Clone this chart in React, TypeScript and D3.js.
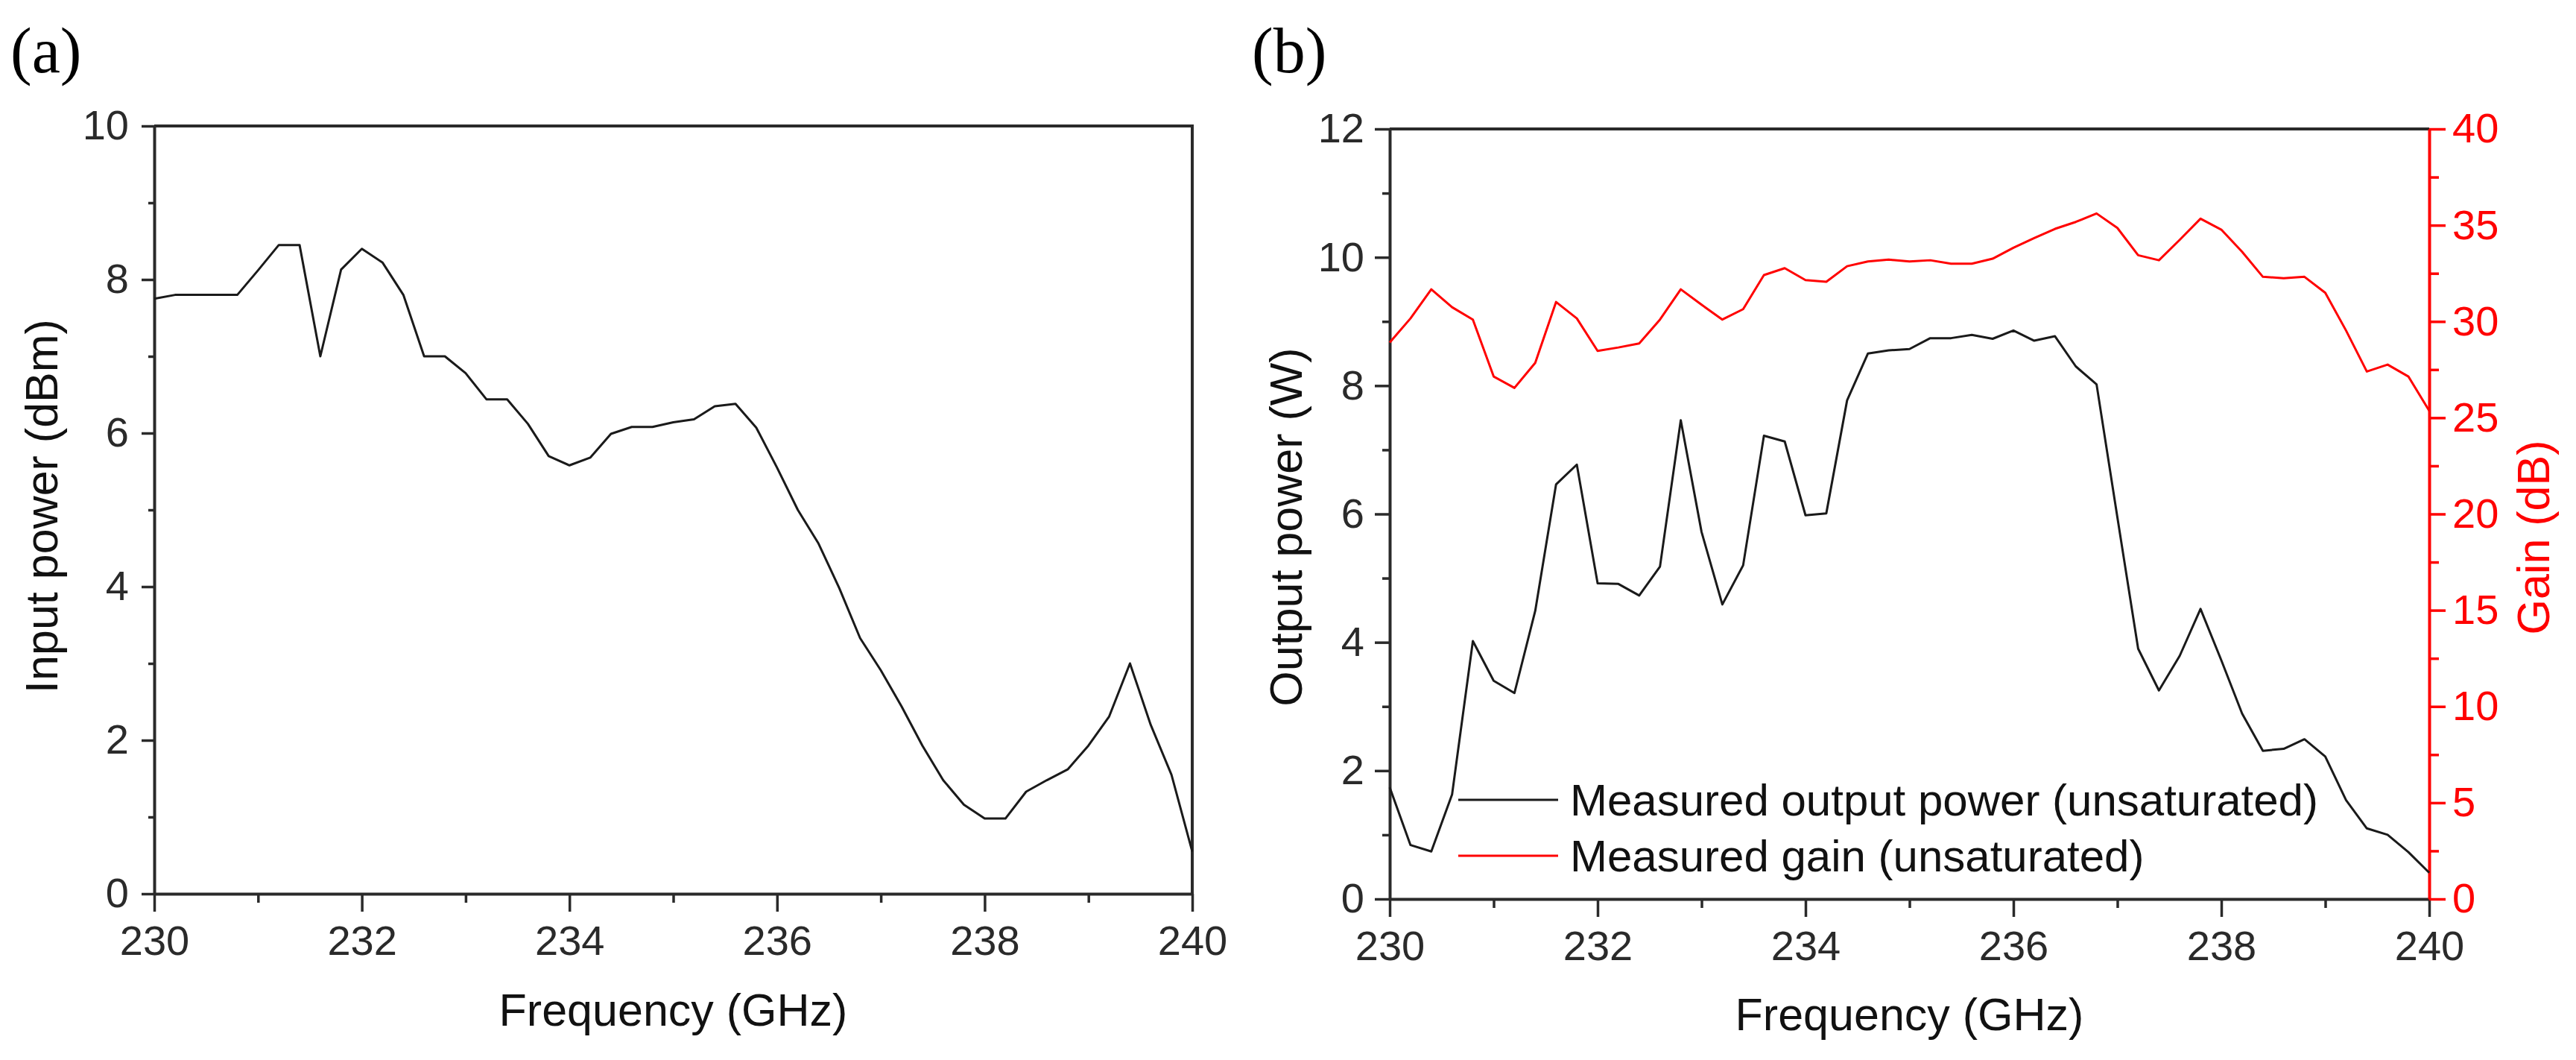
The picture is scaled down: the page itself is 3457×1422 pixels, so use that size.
import { useRef, useEffect } from "react";
import * as d3 from "d3";

// frequency grid (GHz), shared by both panels
const freq = [
  230.0, 230.2, 230.4, 230.6, 230.8, 231.0, 231.2, 231.4, 231.6, 231.8,
  232.0, 232.2, 232.4, 232.6, 232.8, 233.0, 233.2, 233.4, 233.6, 233.8,
  234.0, 234.2, 234.4, 234.6, 234.8, 235.0, 235.2, 235.4, 235.6, 235.8,
  236.0, 236.2, 236.4, 236.6, 236.8, 237.0, 237.2, 237.4, 237.6, 237.8,
  238.0, 238.2, 238.4, 238.6, 238.8, 239.0, 239.2, 239.4, 239.6, 239.8,
  240.0,
];

// (a) input power, dBm
const inputPower = [
  7.75, 7.8, 7.8, 7.8, 7.8, 8.12, 8.45, 8.45, 7.0, 8.13,
  8.4, 8.22, 7.8, 7.0, 7.0, 6.78, 6.44, 6.44, 6.12, 5.7,
  5.58, 5.68, 5.99, 6.08, 6.08, 6.14, 6.18, 6.35, 6.38, 6.07,
  5.55, 5.0, 4.56, 3.98, 3.33, 2.91, 2.44, 1.93, 1.48, 1.16,
  0.98, 0.98, 1.33, 1.48, 1.62, 1.93, 2.31, 3.0, 2.2, 1.55,
  0.55,
];

// (b) output power, W
const outputPower = [
  1.74, 0.84, 0.74, 1.63, 4.02, 3.4, 3.21, 4.49, 6.46, 6.77,
  4.92, 4.91, 4.73, 5.18, 7.46, 5.72, 4.59, 5.2, 7.22, 7.13,
  5.98, 6.01, 7.77, 8.5, 8.55, 8.57, 8.74, 8.74, 8.79, 8.73,
  8.86, 8.7, 8.77, 8.3, 8.02, 5.95, 3.9, 3.25, 3.79, 4.52,
  3.72, 2.89, 2.31, 2.34, 2.49, 2.22, 1.54, 1.1, 1.0, 0.73,
  0.41,
];

// (b) gain, dB
const gain = [
  28.91, 30.16, 31.67, 30.74, 30.1, 27.14, 26.55, 27.85, 31.01, 30.16,
  28.47, 28.65, 28.86, 30.1, 31.67, 30.87, 30.1, 30.64, 32.41, 32.77,
  32.15, 32.06, 32.87, 33.12, 33.21, 33.12, 33.18, 33.0, 33.0, 33.26,
  33.83, 34.33, 34.81, 35.17, 35.61, 34.86, 33.44, 33.18, 34.24, 35.34,
  34.77, 33.62, 32.32, 32.25, 32.32, 31.49, 29.53, 27.4, 27.76, 27.14,
  25.36,
];

const freqTicks = [230, 232, 234, 236, 238, 240];
const freqMinor = [231, 233, 235, 237, 239];
const inputTicks = [0, 2, 4, 6, 8, 10];
const inputMinor = [1, 3, 5, 7, 9];
const outputTicks = [0, 2, 4, 6, 8, 10, 12];
const outputMinor = [1, 3, 5, 7, 9, 11];
const gainTicks = [0, 5, 10, 15, 20, 25, 30, 35, 40];
const gainMinor = [2.5, 7.5, 12.5, 17.5, 22.5, 27.5, 32.5, 37.5];

const legendLabels = [
  "Measured output power (unsaturated)",
  "Measured gain (unsaturated)",
];

const W = 3457;
const H = 1422;
const FONT = "'Liberation Sans', Arial, sans-serif";
const SERIF = "'Liberation Serif', 'Times New Roman', serif";
const AXIS = "#2a2a2a";
const INK = "#111";
const RED = "#ff0000";
const TICK_FS = 56;
const TITLE_FS = 61;

type Pt = { x: number; y: number };
type G = d3.Selection<SVGGElement, unknown, null, undefined>;

function styleAxis(g: G, color: string) {
  g.attr("color", color)
    .attr("font-family", FONT)
    .attr("font-size", TICK_FS);
  g.selectAll(".domain").attr("stroke-width", 4);
  g.selectAll(".tick line").attr("stroke-width", 3.5);
}

// major axis with labels + a minor one without
function addAxis(
  parent: G,
  make: () => d3.Axis<d3.NumberValue>,
  makeMinor: () => d3.Axis<d3.NumberValue>,
  transform: string,
  color: string,
) {
  const major = parent.append("g").attr("transform", transform).call(make());
  styleAxis(major, color);
  const minor = parent.append("g").attr("transform", transform).call(makeMinor());
  styleAxis(minor, color);
  minor.select(".domain").remove();
}

function rotatedLabel(parent: G, x: number, y: number, text: string, fill: string) {
  parent.append("text")
    .attr("transform", `translate(${x},${y}) rotate(-90)`)
    .attr("text-anchor", "middle")
    .attr("font-family", FONT)
    .attr("font-size", TITLE_FS)
    .attr("fill", fill)
    .text(text);
}

export default function App() {
  const ref = useRef<SVGSVGElement>(null);

  useEffect(() => {
    if (!ref.current) return;
    const svg = d3.select(ref.current);
    svg.selectAll("*").remove();

    // ---------- panel (a) ----------
    const a = { left: 207, right: 1600, top: 169, bottom: 1199 };
    const xa = d3.scaleLinear().domain([230, 240]).range([a.left, a.right]);
    const ya = d3.scaleLinear().domain([0, 10]).range([a.bottom, a.top]);

    const ga = svg.append("g") as unknown as G;

    // frame (top, right)
    ga.append("path")
      .attr("d", `M${a.left},${a.top}H${a.right}V${a.bottom}`)
      .attr("fill", "none")
      .attr("stroke", AXIS)
      .attr("stroke-width", 4);

    addAxis(ga,
      () => d3.axisBottom(xa).tickValues(freqTicks).tickSize(24).tickSizeOuter(0).tickPadding(18).tickFormat(d3.format("d")),
      () => d3.axisBottom(xa).tickValues(freqMinor).tickSize(12).tickSizeOuter(0).tickFormat(() => ""),
      `translate(0,${a.bottom})`, AXIS);

    addAxis(ga,
      () => d3.axisLeft(ya).tickValues(inputTicks).tickSize(17).tickSizeOuter(0).tickPadding(17),
      () => d3.axisLeft(ya).tickValues(inputMinor).tickSize(8).tickSizeOuter(0).tickFormat(() => ""),
      `translate(${a.left},0)`, AXIS);

    const lineA = d3.line<Pt>().x(d => xa(d.x)).y(d => ya(d.y));
    ga.append("path")
      .datum(freq.map((f, i): Pt => ({ x: f, y: inputPower[i] })))
      .attr("d", lineA)
      .attr("fill", "none")
      .attr("stroke", "#1a1a1a")
      .attr("stroke-width", 3)
      .attr("stroke-linejoin", "round");

    ga.append("text")
      .attr("x", (a.left + a.right) / 2)
      .attr("y", 1376)
      .attr("text-anchor", "middle")
      .attr("font-family", FONT)
      .attr("font-size", TITLE_FS)
      .attr("fill", INK)
      .text("Frequency (GHz)");

    rotatedLabel(ga, 77, 679, "Input power (dBm)", INK);

    ga.append("text")
      .attr("x", 14)
      .attr("y", 97)
      .attr("font-family", SERIF)
      .attr("font-size", 86)
      .attr("fill", "#000")
      .text("(a)");

    // ---------- panel (b) ----------
    const b = { left: 1865, right: 3260, top: 173, bottom: 1206 };
    const xb = d3.scaleLinear().domain([230, 240]).range([b.left, b.right]);
    const yb = d3.scaleLinear().domain([0, 12]).range([b.bottom, b.top]);
    const yg = d3.scaleLinear().domain([0, 40]).range([b.bottom, b.top]);

    const gb = svg.append("g") as unknown as G;

    gb.append("line")
      .attr("x1", b.left).attr("x2", b.right)
      .attr("y1", b.top).attr("y2", b.top)
      .attr("stroke", AXIS)
      .attr("stroke-width", 4);

    addAxis(gb,
      () => d3.axisBottom(xb).tickValues(freqTicks).tickSize(24).tickSizeOuter(0).tickPadding(18).tickFormat(d3.format("d")),
      () => d3.axisBottom(xb).tickValues(freqMinor).tickSize(12).tickSizeOuter(0).tickFormat(() => ""),
      `translate(0,${b.bottom})`, AXIS);

    addAxis(gb,
      () => d3.axisLeft(yb).tickValues(outputTicks).tickSize(20).tickSizeOuter(0).tickPadding(14),
      () => d3.axisLeft(yb).tickValues(outputMinor).tickSize(10).tickSizeOuter(0).tickFormat(() => ""),
      `translate(${b.left},0)`, AXIS);

    addAxis(gb,
      () => d3.axisRight(yg).tickValues(gainTicks).tickSize(22).tickSizeOuter(0).tickPadding(9),
      () => d3.axisRight(yg).tickValues(gainMinor).tickSize(13).tickSizeOuter(0).tickFormat(() => ""),
      `translate(${b.right},0)`, RED);

    const lineOut = d3.line<Pt>().x(d => xb(d.x)).y(d => yb(d.y));
    const lineGain = d3.line<Pt>().x(d => xb(d.x)).y(d => yg(d.y));

    gb.append("path")
      .datum(freq.map((f, i): Pt => ({ x: f, y: gain[i] })))
      .attr("d", lineGain)
      .attr("fill", "none")
      .attr("stroke", RED)
      .attr("stroke-width", 3)
      .attr("stroke-linejoin", "round");

    gb.append("path")
      .datum(freq.map((f, i): Pt => ({ x: f, y: outputPower[i] })))
      .attr("d", lineOut)
      .attr("fill", "none")
      .attr("stroke", "#1a1a1a")
      .attr("stroke-width", 3)
      .attr("stroke-linejoin", "round");

    // legend
    const legendColors = ["#1a1a1a", RED];
    const legend = gb.append("g");
    legendLabels.forEach((label, i) => {
      const ly = 1073 + i * 75;
      legend.append("line")
        .attr("x1", 1957).attr("x2", 2091)
        .attr("y1", ly).attr("y2", ly)
        .attr("stroke", legendColors[i])
        .attr("stroke-width", 3);
      legend.append("text")
        .attr("x", 2107)
        .attr("y", ly + 21)
        .attr("font-family", FONT)
        .attr("font-size", 60)
        .attr("fill", INK)
        .text(label);
    });

    gb.append("text")
      .attr("x", (b.left + b.right) / 2)
      .attr("y", 1382)
      .attr("text-anchor", "middle")
      .attr("font-family", FONT)
      .attr("font-size", TITLE_FS)
      .attr("fill", INK)
      .text("Frequency (GHz)");

    rotatedLabel(gb, 1747, 707, "Output power (W)", INK);
    rotatedLabel(gb, 3421, 721, "Gain (dB)", RED);

    gb.append("text")
      .attr("x", 1680)
      .attr("y", 97)
      .attr("font-family", SERIF)
      .attr("font-size", 86)
      .attr("fill", "#000")
      .text("(b)");
  }, []);

  return (
    <div style={{ position: "fixed", left: 0, top: 0, width: W, height: H, background: "#fff" }}>
      <svg ref={ref} width={W} height={H} viewBox={`0 0 ${W} ${H}`} />
    </div>
  );
}
